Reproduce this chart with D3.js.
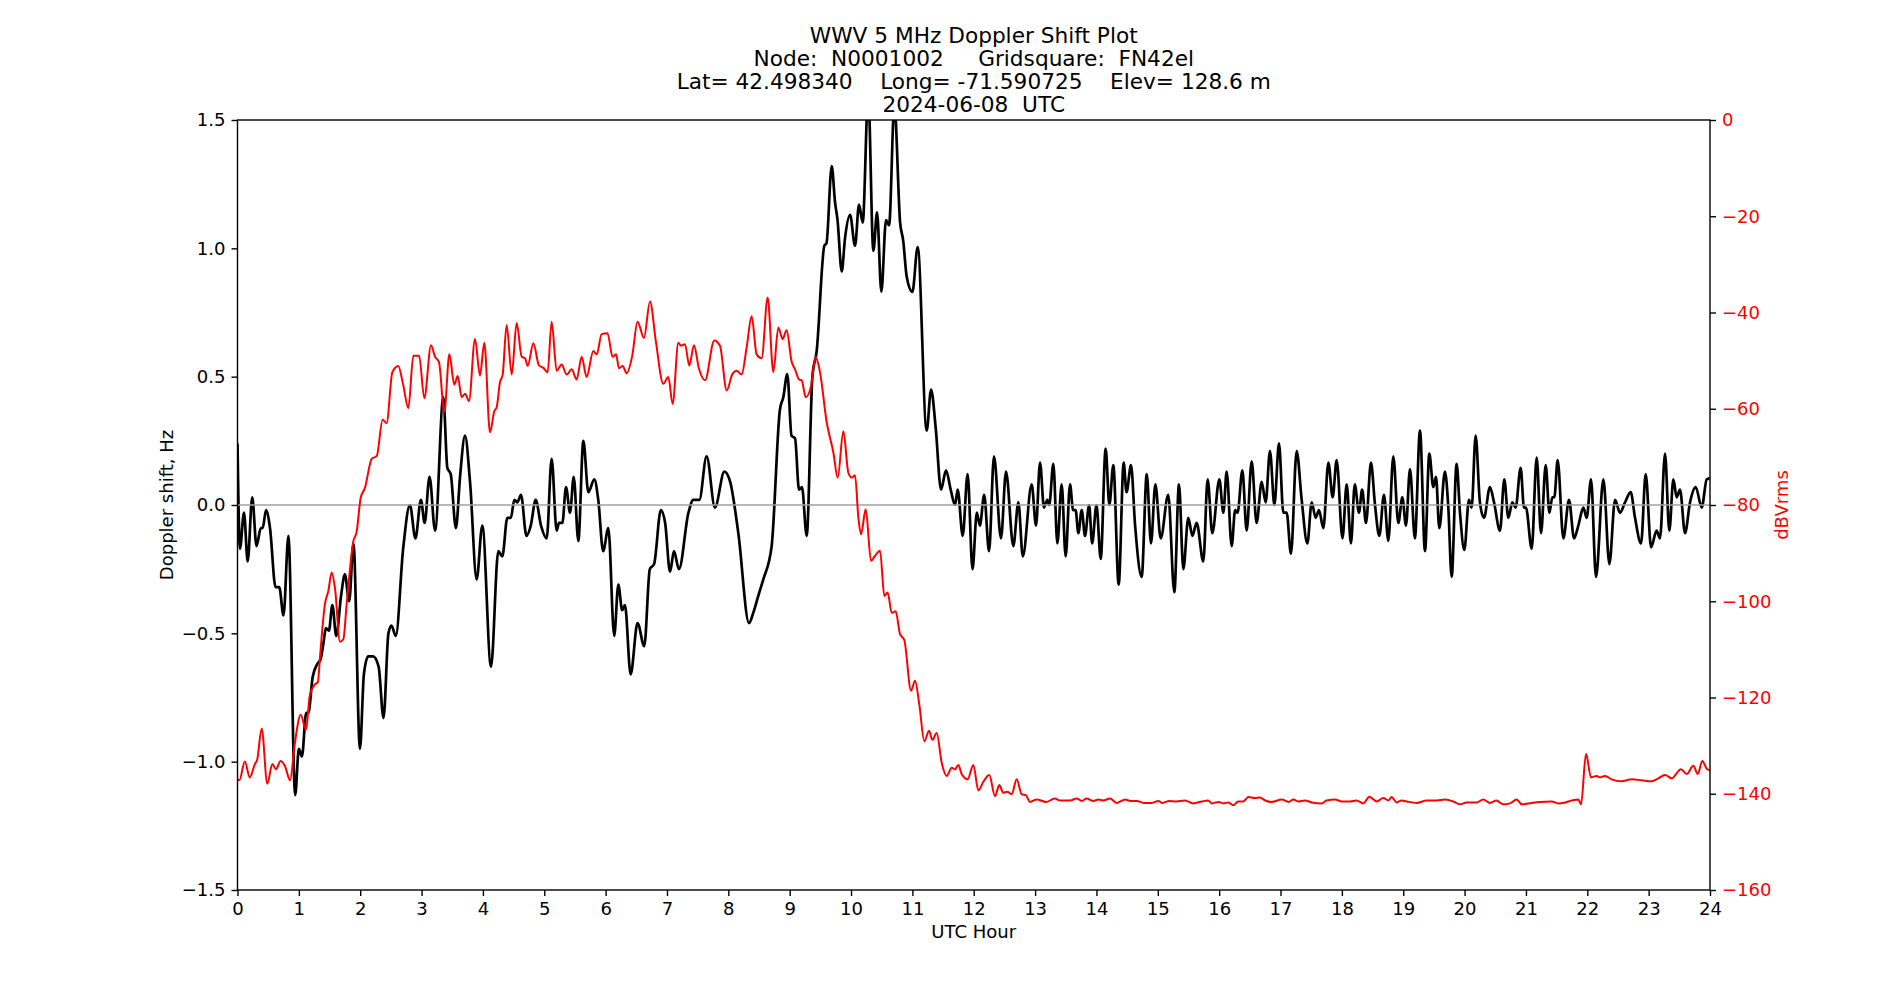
<!DOCTYPE html>
<html>
<head>
<meta charset="utf-8">
<script src="https://cdn.jsdelivr.net/npm/d3@7"></script>
<style>
  html, body { margin: 0; padding: 0; background: #fff; }
  svg { display: block; font-family: "DejaVu Sans", sans-serif; }
  text { white-space: pre; }
</style>
</head>
<body>
<svg id="chart" width="1900" height="1000"></svg>
<script>
// ---------------- DATA ----------------
const titleLines = [
  "WWV 5 MHz Doppler Shift Plot",
  "Node:  N0001002     Gridsquare:  FN42el",
  "Lat= 42.498340    Long= -71.590725    Elev= 128.6 m",
  "2024-06-08  UTC"
];
const xTicks = d3.range(0, 25, 1);
const leftTicks = [-1.5, -1.0, -0.5, 0.0, 0.5, 1.0, 1.5];
const rightTicks = [-160, -140, -120, -100, -80, -60, -40, -20, 0];

// Doppler shift (Hz) — hour / value pairs
const dopplerHour = [
0.0,0.04,0.106,0.166,0.24,0.31,0.38,0.41,0.465,0.53,0.62,0.68,0.75,0.83,0.94,1.0,1.05,1.12,1.155,1.225,1.3,1.355,1.4,1.44,1.49,1.546,1.61,1.69,1.75,1.82,1.89,1.996,2.06,2.13,2.21,2.3,2.38,2.46,2.51,2.58,2.7,2.81,2.9,2.99,3.05,3.13,
3.22,3.355,3.42,3.475,3.56,3.627,3.708,3.79,3.898,3.99,4.132,4.251,4.316,4.398,4.455,4.512,4.56,4.62,4.71,4.78,4.86,4.947,5.04,5.12,5.202,5.24,5.295,5.354,5.42,5.48,5.555,5.637,5.718,5.816,5.88,5.96,6.044,6.14,
6.207,6.27,6.315,6.408,6.52,6.63,6.72,6.79,6.9,6.97,7.05,7.114,7.195,7.35,7.43,7.527,7.646,7.782,7.935,8.03,8.163,8.337,8.407,8.505,8.57,8.706,8.84,8.896,8.961,9.03,9.087,9.152,9.2,9.277,
9.37,9.44,9.565,9.6,9.685,9.739,9.78,9.848,9.902,9.984,10.065,10.13,10.19,10.28,10.364,10.424,10.494,10.57,10.62,10.706,10.8,10.85,10.907,11.0,11.086,11.233,11.304,11.38,11.467,11.548,11.624,11.695,11.738,11.82,11.9,11.98,12.05,12.1,12.17,
12.249,12.33,12.444,12.526,12.645,12.727,12.8,12.944,13.015,13.08,13.145,13.2,13.23,13.297,13.363,13.433,13.498,13.569,13.62,13.66,13.705,13.76,13.813,13.88,13.93,14.0,14.069,14.15,14.21,14.275,14.362,14.444,14.49,14.563,14.63,14.737,14.82,14.889,14.96,15.047,15.17,
15.269,15.345,15.416,15.497,15.563,15.633,15.742,15.812,15.888,16.003,16.068,16.122,16.204,16.26,16.3,16.378,16.448,16.53,16.61,16.693,16.758,16.828,16.9,16.975,17.046,17.1,17.17,17.263,17.345,17.437,17.508,17.573,17.627,17.698,17.78,17.85,17.915,
18.01,18.078,18.148,18.21,18.279,18.33,18.393,18.474,18.54,18.61,18.686,18.757,18.838,18.92,18.985,19.045,19.11,19.19,19.273,19.355,19.425,19.49,19.534,19.588,19.68,19.735,19.789,19.87,19.925,19.996,20.071,20.115,20.18,20.25,20.316,20.414,20.48,20.577,20.647,20.713,20.778,20.832,20.914,20.968,21.0,
21.094,21.175,21.246,21.322,21.382,21.43,21.463,21.517,21.61,21.702,21.784,21.854,21.936,21.99,22.061,22.142,22.262,22.36,22.452,22.533,22.615,22.707,22.778,22.876,22.952,23.04,23.13,23.185,23.267,23.337,23.403,23.457,23.511,23.593,23.674,23.767,23.865,23.946,24.0
];
const dopplerHz = [
0.24,-0.17,-0.03,-0.22,0.03,-0.16,-0.09,-0.09,-0.02,-0.09,-0.32,-0.32,-0.43,-0.12,-1.13,-0.95,-0.98,-0.81,-0.81,-0.67,-0.62,-0.6,-0.54,-0.48,-0.49,-0.39,-0.51,-0.35,-0.27,-0.375,-0.15,-0.95,-0.66,-0.59,-0.59,-0.63,-0.83,-0.5,-0.47,-0.51,-0.17,0.0,-0.13,0.02,-0.07,0.11,
-0.1,0.42,0.145,0.12,-0.09,0.11,0.27,0.09,-0.29,-0.08,-0.63,-0.18,-0.2,-0.05,-0.05,0.02,0.01,0.04,-0.12,-0.08,0.02,-0.08,-0.13,0.18,-0.1,-0.07,-0.07,0.07,-0.03,0.11,-0.14,0.25,0.05,0.1,0.02,-0.18,-0.09,-0.51,
-0.31,-0.41,-0.39,-0.66,-0.46,-0.55,-0.25,-0.23,-0.02,-0.07,-0.26,-0.18,-0.25,-0.03,0.02,0.02,0.19,-0.01,0.13,0.09,-0.11,-0.46,-0.42,-0.34,-0.29,-0.16,0.37,0.42,0.51,0.27,0.26,0.06,0.07,-0.12,
0.5,0.6,1.01,1.02,1.32,1.18,1.11,0.91,1.04,1.13,1.01,1.17,1.1,1.6,0.99,1.14,0.83,1.11,1.09,1.56,1.1,1.03,0.89,0.83,1.005,0.29,0.45,0.3,0.06,0.135,0.06,0.0,0.06,-0.12,0.12,-0.25,-0.03,-0.08,0.04,
-0.18,0.19,-0.13,0.13,-0.16,0.01,-0.2,0.08,-0.08,0.165,-0.01,0.02,0.0,0.16,-0.15,0.08,-0.2,0.08,-0.02,-0.02,-0.11,-0.02,-0.12,0.0,-0.15,0.0,-0.21,0.22,0.0,0.155,-0.31,0.165,0.05,0.155,-0.08,-0.28,0.12,-0.15,0.08,-0.13,0.04,
-0.34,0.08,-0.25,-0.05,-0.12,-0.07,-0.22,0.1,-0.11,0.1,-0.03,0.13,-0.16,-0.02,-0.03,0.135,-0.1,0.17,-0.07,0.09,0.01,0.21,0.0,0.24,-0.03,-0.03,-0.19,0.21,0.02,-0.15,0.01,-0.05,-0.02,-0.09,0.165,0.03,0.175,
-0.13,0.08,-0.15,0.08,-0.03,0.06,-0.07,0.165,0.0,-0.12,0.04,-0.14,0.19,-0.07,0.03,-0.08,0.14,-0.13,0.29,-0.18,0.2,0.07,0.11,-0.09,0.13,-0.01,-0.28,0.16,-0.03,-0.175,0.02,-0.01,0.27,0.01,-0.05,0.07,0.01,-0.1,0.1,-0.05,0.01,-0.01,0.145,-0.01,-0.01,
-0.17,0.185,-0.11,0.155,-0.03,0.03,0.03,0.175,-0.13,0.02,-0.13,-0.08,-0.01,-0.05,0.1,-0.28,0.1,-0.23,0.02,-0.03,0.01,0.05,-0.05,-0.15,0.12,-0.165,-0.1,-0.13,0.2,-0.1,0.1,0.03,0.06,-0.11,0.01,0.07,-0.01,0.1,0.105
];

// Received power (dBVrms) — hour / value pairs
const powerHour = [
0.0,0.03,0.12,0.2,0.285,0.32,0.394,0.486,0.568,0.627,0.703,0.775,0.856,0.937,1.03,1.117,1.18,1.26,1.31,1.345,1.426,1.48,1.535,1.59,1.67,1.725,1.78,1.89,1.94,2.008,2.078,2.187,2.27,2.366,2.43,2.524,2.62,2.7,2.785,2.866,2.96,3.045,
3.154,3.22,3.284,3.371,3.453,3.534,3.589,3.654,3.71,3.773,3.871,3.952,4.023,4.115,4.186,4.224,4.278,4.322,4.387,4.469,4.55,4.632,4.686,4.73,4.822,4.914,4.985,5.055,5.12,5.202,5.283,5.365,5.446,5.528,5.61,5.69,5.8,5.855,5.935,
6.03,6.114,6.17,6.218,6.277,6.343,6.435,6.52,6.625,6.723,6.82,6.94,7.022,7.092,7.185,7.228,7.293,7.364,7.44,7.52,7.62,7.771,7.864,7.973,8.07,8.136,8.217,8.3,8.38,8.461,8.543,8.641,8.733,8.815,8.885,8.95,
9.033,9.087,9.152,9.196,9.261,9.348,9.424,9.494,9.603,9.712,9.782,9.875,9.956,10.01,10.065,10.12,10.163,10.239,10.326,10.39,10.472,10.543,10.597,10.663,10.728,10.798,10.869,10.978,11.043,11.113,11.195,11.271,11.325,11.396,11.477,11.559,11.64,11.695,11.749,11.803,11.901,
11.993,12.075,12.157,12.254,12.346,12.417,12.48,12.547,12.618,12.7,12.781,12.85,12.917,13.026,13.18,13.32,13.41,13.57,13.68,13.76,13.84,13.95,14.03,14.11,14.22,14.33,14.47,14.55,14.66,14.77,14.9,15.01,15.07,15.19,
15.3,15.44,15.58,15.72,15.82,15.88,15.99,16.07,16.15,16.23,16.31,16.39,16.475,16.58,16.665,16.75,16.855,17.02,17.13,17.21,17.29,17.4,17.51,17.67,17.75,17.89,18.0,
18.13,18.24,18.35,18.447,18.567,18.675,18.76,18.81,18.893,18.975,19.056,19.22,19.38,19.545,19.68,19.816,19.925,20.034,20.197,20.305,20.414,20.52,20.63,20.74,20.849,20.93,
21.095,21.23,21.42,21.53,21.64,21.746,21.854,21.898,21.979,22.061,22.153,22.207,22.289,22.398,22.56,22.724,22.886,23.05,23.158,23.267,23.375,23.528,23.62,23.729,23.8,23.875,23.946,24.0
];
const powerDb = [
-137.0,-137.2,-133.3,-136.6,-133.8,-133.0,-126.5,-137.9,-133.8,-134.9,-133.2,-134.3,-137.2,-129.3,-123.6,-126.7,-119.4,-117.3,-116.8,-111.5,-100.5,-97.9,-94.0,-97.4,-108.4,-107.9,-100.5,-87.4,-85.7,-78.5,-76.4,-70.4,-69.8,-62.3,-63.0,-52.4,-51.1,-55.0,-59.9,-49.0,-49.0,-57.8,
-46.8,-49.2,-50.3,-60.7,-48.7,-55.0,-53.2,-57.6,-56.9,-58.4,-45.5,-53.1,-46.3,-64.9,-60.5,-59.7,-54.5,-52.9,-42.6,-52.9,-42.2,-49.2,-49.5,-51.1,-46.4,-51.0,-51.5,-52.4,-41.9,-52.1,-50.8,-52.9,-51.8,-53.9,-49.2,-53.4,-48.0,-48.7,-44.5,
-44.3,-49.2,-48.7,-51.6,-51.1,-52.6,-48.9,-41.9,-45.3,-37.7,-46.1,-54.8,-53.4,-59.0,-46.3,-46.9,-46.6,-51.0,-46.8,-51.6,-54.1,-45.8,-46.9,-56.2,-52.7,-52.1,-52.9,-47.1,-40.8,-48.7,-49.5,-36.9,-52.4,-43.1,-45.5,-43.7,
-50.3,-51.8,-53.9,-54.1,-57.6,-55.3,-49.2,-52.4,-62.8,-69.1,-74.3,-64.7,-73.3,-74.3,-73.8,-82.7,-86.1,-80.9,-91.6,-90.6,-89.5,-98.9,-98.2,-102.4,-102.1,-106.8,-108.1,-118.6,-116.5,-121.5,-129.1,-126.9,-128.8,-127.4,-133.5,-136.3,-134.6,-134.9,-134.0,-135.9,-137.0,
-134.0,-139.3,-137.5,-136.1,-140.5,-138.2,-139.8,-139.6,-140.1,-137.0,-140.1,-140.3,-141.7,-141.2,-141.7,-141.0,-141.4,-141.4,-141.0,-141.5,-141.0,-141.5,-141.2,-141.4,-141.0,-141.9,-141.2,-141.5,-141.5,-141.9,-141.9,-141.5,-141.9,-141.5,
-141.6,-141.4,-142.0,-141.6,-141.4,-142.0,-141.7,-142.0,-141.8,-142.4,-141.6,-141.6,-140.7,-140.9,-140.8,-141.4,-141.7,-141.2,-141.7,-141.2,-141.6,-141.4,-141.8,-142.0,-141.4,-141.2,-141.6,
-141.6,-141.4,-142.0,-140.6,-141.6,-140.9,-141.4,-140.7,-141.8,-141.4,-141.6,-141.9,-141.4,-141.4,-141.2,-141.6,-142.2,-141.8,-141.8,-141.2,-141.9,-141.4,-142.2,-142.0,-141.2,-142.2,
-141.9,-141.7,-141.6,-142.0,-141.8,-141.4,-141.2,-142.2,-131.7,-136.6,-136.3,-136.6,-136.3,-137.0,-137.4,-137.0,-137.2,-137.4,-136.8,-136.1,-136.8,-134.9,-135.9,-134.2,-135.9,-133.2,-134.8,-135.1
];

// ---------------- CHART ----------------
const W = 1900, H = 1000;
const L = 237.5, R = 1710, T = 120, B = 890;
const FONT = 18.05;
const TITLE_FONT = 21.67;

const svg = d3.select("#chart");

const x = d3.scaleLinear().domain([0, 24]).range([L, R]);
const yL = d3.scaleLinear().domain([-1.5, 1.5]).range([B, T]);
const yR = d3.scaleLinear().domain([-160, 0]).range([B, T]);

svg.append("defs").append("clipPath").attr("id", "plotclip")
  .append("rect").attr("x", L).attr("y", T).attr("width", R - L).attr("height", B - T);

const plot = svg.append("g").attr("clip-path", "url(#plotclip)");

const dopplerData = dopplerHour.map((h, i) => [h, dopplerHz[i]]);
const powerData = powerHour.map((h, i) => [h, powerDb[i]]);

plot.append("path")
  .datum(dopplerData)
  .attr("fill", "none")
  .attr("stroke", "#000")
  .attr("stroke-width", 2.7)
  .attr("stroke-linejoin", "round")
  .attr("d", d3.line().x(d => x(d[0])).y(d => yL(d[1])).curve(d3.curveMonotoneX));

plot.append("line")
  .attr("x1", x(0)).attr("x2", x(24))
  .attr("y1", yL(0)).attr("y2", yL(0))
  .attr("stroke", "#a0a0a0").attr("stroke-width", 1.3);

plot.append("path")
  .datum(powerData)
  .attr("fill", "none")
  .attr("stroke", "#ff0000")
  .attr("stroke-width", 2.0)
  .attr("stroke-linejoin", "round")
  .attr("d", d3.line().x(d => x(d[0])).y(d => yR(d[1])).curve(d3.curveMonotoneX));

// Axes
function styleAxis(g, color) {
  g.select(".domain").remove();
  g.selectAll(".tick line").attr("stroke", "#000").attr("stroke-width", 1.4);
  g.selectAll(".tick text")
    .attr("fill", color)
    .style("font-family", "DejaVu Sans")
    .style("font-size", FONT + "px");
}

const xAxis = svg.append("g").attr("transform", `translate(0,${B})`)
  .call(d3.axisBottom(x).tickValues(xTicks).tickFormat(d3.format("d")).tickSize(6).tickPadding(6));
styleAxis(xAxis, "#000");

const lAxis = svg.append("g").attr("transform", `translate(${L},0)`)
  .call(d3.axisLeft(yL).tickValues(leftTicks).tickFormat(d3.format(".1f")).tickSize(6).tickPadding(6));
styleAxis(lAxis, "#000");

const rAxis = svg.append("g").attr("transform", `translate(${R},0)`)
  .call(d3.axisRight(yR).tickValues(rightTicks).tickFormat(d3.format("d")).tickSize(6).tickPadding(6));
styleAxis(rAxis, "#ff0000");

// Frame (spines)
svg.append("rect")
  .attr("x", L).attr("y", T).attr("width", R - L).attr("height", B - T)
  .attr("fill", "none").attr("stroke", "#000").attr("stroke-width", 1.4);

// Axis labels
svg.append("text")
  .attr("x", (L + R) / 2).attr("y", 938)
  .attr("text-anchor", "middle")
  .style("font-size", FONT + "px")
  .text("UTC Hour");

svg.append("text")
  .attr("transform", `translate(173,${(T + B) / 2}) rotate(-90)`)
  .attr("text-anchor", "middle")
  .style("font-size", FONT + "px")
  .text("Doppler shift, Hz");

svg.append("text")
  .attr("transform", `translate(1788,${(T + B) / 2}) rotate(-90)`)
  .attr("text-anchor", "middle")
  .attr("fill", "#ff0000")
  .style("font-size", FONT + "px")
  .text("dBVrms");

// Title
const titleBase = [42.5, 65.5, 88.5, 111.5];
titleLines.forEach((t, i) => {
  svg.append("text")
    .attr("x", (L + R) / 2).attr("y", titleBase[i])
    .attr("text-anchor", "middle")
    .style("font-size", TITLE_FONT + "px")
    .text(t);
});
</script>
</body>
</html>
